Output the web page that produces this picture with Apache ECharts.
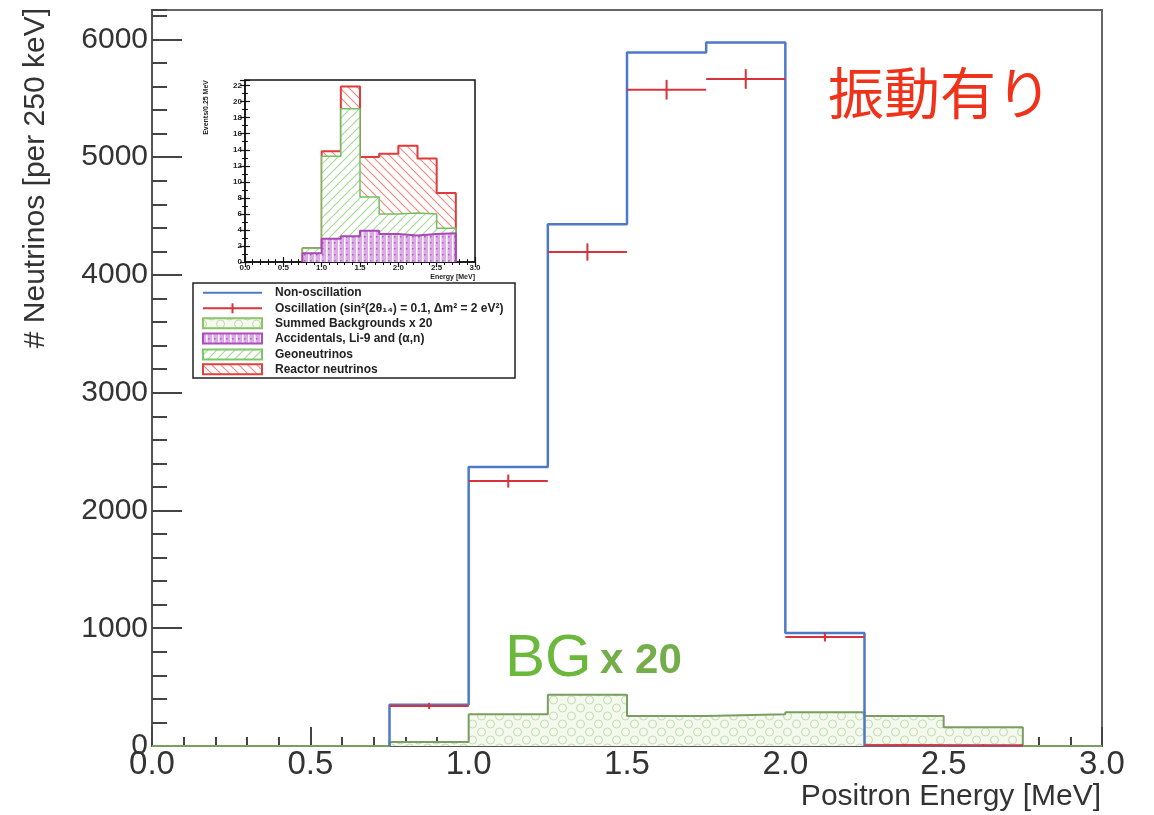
<!DOCTYPE html>
<html>
<head>
<meta charset="utf-8">
<script src="https://cdn.jsdelivr.net/npm/echarts@6/dist/echarts.min.js"></script>
<style>
  html, body { margin: 0; padding: 0; background: #fff; }
  #box { width: 1154px; height: 815px; }
</style>
</head>
<body>
<div id="box"></div>
<script>
// bin edges in MeV (250 keV bins); only these bins have content
var binEdges = [0.75, 1.0, 1.25, 1.5, 1.75, 2.0, 2.25, 2.5, 2.75];
var nonOsc   = [350, 2370, 4430, 5890, 5975, 960, 5, 3];
var osc      = [340, 2250, 4195, 5573, 5664, 926, 6, 4];
var oscErr   = [18, 47, 65, 75, 75, 30, 2, 2];
var bgSummed = [34, 270, 435, 255, 270, 287, 255, 160];   // summed backgrounds x 20

// inset: events per 0.25 MeV, stacked acc -> geo -> reactor
var accidentals = [1.1, 2.9, 3.2, 3.9, 3.5, 3.3, 3.5, 3.6];
var geoNu       = [0.6, 10.3, 15.9, 4.2, 2.5, 2.8, 2.5, 0.6];
var reactorNu   = [0, 0.6, 2.8, 5.0, 7.5, 8.4, 6.9, 4.4];

var legendNames = [
  'Non-oscillation',
  'Oscillation (sin\u00b2(2\u03b8\u2081\u2084) = 0.1, \u0394m\u00b2 = 2 eV\u00b2)',
  'Summed Backgrounds x 20',
  'Accidentals, Li-9 and (\u03b1,n)',
  'Geoneutrinos',
  'Reactor neutrinos'
];

var FONT = '"Liberation Sans", Arial, Helvetica, sans-serif';
var BLUE = '#4f78c6', RED = '#d8333a', BGLINE = '#7a9e62';

function tile(w, h, draw) {
  var c = document.createElement('canvas');
  c.width = w; c.height = h;
  draw(c.getContext('2d'), w, h);
  return { image: c, repeat: 'repeat' };
}
function hatch(size, bg, color, dir) {
  return tile(size, size, function (ctx, w) {
    ctx.fillStyle = bg; ctx.fillRect(0, 0, w, w);
    ctx.strokeStyle = color; ctx.lineWidth = 1.2;
    for (var k = -w; k <= w; k += w) {
      ctx.beginPath();
      if (dir > 0) { ctx.moveTo(k + w, 0); ctx.lineTo(k, w); }
      else { ctx.moveTo(k, 0); ctx.lineTo(k + w, w); }
      ctx.stroke();
    }
  });
}
var redHatch = hatch(9, '#fff', '#f08a80', -1);
var greenHatch = hatch(9, '#fff', '#a8d898', 1);
var purpleFill = tile(6, 6, function (ctx, w, h) {
  ctx.fillStyle = '#dcaae4'; ctx.fillRect(0, 0, w, h);
  ctx.fillStyle = '#fff'; ctx.fillRect(2, 0, 1.5, h);
  ctx.fillStyle = '#b458c4'; ctx.fillRect(4, 2, 1.5, 1.5);
});
var bgFill = tile(18, 16, function (ctx, w, h) {
  ctx.fillStyle = '#f3f9ec'; ctx.fillRect(0, 0, w, h);
  ctx.strokeStyle = '#c4d8b4'; ctx.lineWidth = 1;
  [[4.5, 4], [13.5, 12], [13.5, -4], [-4.5, 12], [22.5, 12], [4.5, 20]].forEach(function (p) {
    ctx.beginPath(); ctx.arc(p[0], p[1], 4, 0, Math.PI * 2); ctx.stroke();
  });
});

// histogram outline as step points, closed down to zero at both ends
function stepPoints(edges, vals, x0, x1) {
  var pts = [];
  if (x0 !== undefined) pts.push([x0, 0]);
  pts.push([edges[0], 0]);
  for (var i = 0; i < vals.length; i++) pts.push([edges[i], vals[i]]);
  pts.push([edges[edges.length - 1], 0]);
  if (x1 !== undefined) pts.push([x1, 0]);
  return pts;
}

var geoTop = accidentals.map(function (v, i) { return v + geoNu[i]; });
var totTop = geoTop.map(function (v, i) { return v + reactorNu[i]; });

var chart = echarts.init(document.getElementById('box'));

var tickStyle = { color: '#444', width: 2 };
var insetLabel = { fontSize: 8, fontWeight: 'bold', color: '#222', fontFamily: FONT };
var plain = function (v) { return String(v); };
var oneDec = function (v) { return v.toFixed(1); };

var rowsY = [292.7, 308.3, 323.3, 338.5, 354.5, 369.3];
var legendGraphics = [{
  type: 'rect', shape: { x: 193, y: 283, width: 322, height: 95 },
  style: { fill: '#fff', stroke: '#222', lineWidth: 1.5 }, z: 100
}];
var swatches = [
  { line: BLUE },
  { line: RED, bar: true },
  { fill: bgFill, stroke: '#8cc26a' },
  { fill: purpleFill, stroke: '#b04cc0' },
  { fill: greenHatch, stroke: '#7cc868' },
  { fill: redHatch, stroke: '#e04040' }
];
swatches.forEach(function (s, i) {
  var y = rowsY[i];
  if (s.line) {
    legendGraphics.push({ type: 'line', shape: { x1: 203, y1: y, x2: 262, y2: y },
      style: { stroke: s.line, lineWidth: 2 }, z: 101 });
    if (s.bar) legendGraphics.push({ type: 'line', shape: { x1: 232.5, y1: y - 5, x2: 232.5, y2: y + 5 },
      style: { stroke: s.line, lineWidth: 2 }, z: 101 });
  } else {
    legendGraphics.push({ type: 'rect', shape: { x: 203, y: y - 5, width: 59, height: 10 },
      style: { fill: s.fill, stroke: s.stroke, lineWidth: 2 }, z: 101 });
  }
  legendGraphics.push({ type: 'text', x: 275, y: y, z: 101,
    style: { text: legendNames[i], fontSize: 12, fontWeight: 'bold', fontFamily: FONT,
      fill: '#222', verticalAlign: 'middle' } });
});

var option = {
  animation: false,
  backgroundColor: '#fff',
  grid: [
    { left: 152, top: 10, width: 950, height: 736, show: true, borderColor: '#666', borderWidth: 2,
      backgroundColor: 'transparent', outerBoundsMode: 'none', containLabel: false },
    { left: 245, top: 80, width: 230, height: 182, show: true, borderColor: '#111', borderWidth: 1.5,
      backgroundColor: '#fff', outerBoundsMode: 'none', containLabel: false }
  ],
  xAxis: [
    { gridIndex: 0, type: 'value', position: 'bottom', min: 0, max: 3, interval: 0.5,
      axisLine: { show: true, lineStyle: { color: '#555', width: 2 } },
      axisTick: { inside: true, length: 19, lineStyle: tickStyle },
      minorTick: { show: true, splitNumber: 5, length: 9, lineStyle: tickStyle },
      splitLine: { show: false },
      axisLabel: { fontSize: 33, color: '#333', fontFamily: FONT, margin: 2, formatter: oneDec } },
    { gridIndex: 1, type: 'value', position: 'bottom', min: 0, max: 3, interval: 0.5,
      axisLine: { show: true, lineStyle: { color: '#111', width: 1.5 } },
      axisTick: { inside: true, length: 5, lineStyle: { color: '#111', width: 1.2 } },
      minorTick: { show: true, splitNumber: 5, length: 3, lineStyle: { color: '#111' } },
      splitLine: { show: false },
      axisLabel: Object.assign({ margin: 2, formatter: oneDec }, insetLabel) },
    { gridIndex: 1, type: 'value', position: 'top', min: 0, max: 3, interval: 0.5,
      axisLine: { show: false },
      axisTick: { inside: true, length: 5, lineStyle: { color: '#111', width: 1.2 } },
      minorTick: { show: true, splitNumber: 5, length: 3, lineStyle: { color: '#111' } },
      splitLine: { show: false }, axisLabel: { show: false } }
  ],
  yAxis: [
    { gridIndex: 0, type: 'value', position: 'left', min: 0, max: 6250, interval: 1000,
      axisLine: { show: true, lineStyle: { color: '#555', width: 2 } },
      axisTick: { inside: true, length: 30, lineStyle: tickStyle },
      splitLine: { show: false },
      axisLabel: { fontSize: 30, color: '#333', fontFamily: FONT, margin: 4, showMaxLabel: false,
        formatter: plain } },
    { gridIndex: 1, type: 'value', position: 'left', min: 0, max: 22.7, interval: 2,
      axisLine: { show: true, lineStyle: { color: '#111', width: 1.5 } },
      axisTick: { inside: true, length: 5, lineStyle: { color: '#111', width: 1.2 } },
      minorTick: { show: true, splitNumber: 2, length: 3, lineStyle: { color: '#111' } },
      splitLine: { show: false },
      axisLabel: Object.assign({ margin: 3, showMaxLabel: false, formatter: plain }, insetLabel) },
    { gridIndex: 1, type: 'value', position: 'right', min: 0, max: 22.7, interval: 2,
      axisLine: { show: false },
      axisTick: { inside: true, length: 5, lineStyle: { color: '#111', width: 1.2 } },
      minorTick: { show: true, splitNumber: 2, length: 3, lineStyle: { color: '#111' } },
      splitLine: { show: false }, axisLabel: { show: false } },
    { gridIndex: 0, type: 'value', position: 'left', offset: 0, min: 0, max: 6250, interval: 200,
      axisLine: { show: false },
      axisTick: { inside: true, length: 15, lineStyle: tickStyle },
      splitLine: { show: false }, axisLabel: { show: false } }
  ],
  series: [
    { name: 'Summed Backgrounds x 20', type: 'line', step: 'end', xAxisIndex: 0, yAxisIndex: 0,
      data: stepPoints(binEdges, bgSummed, 0, 3), symbol: 'none', z: 2,
      lineStyle: { color: BGLINE, width: 2 }, areaStyle: { color: bgFill, opacity: 1 } },
    { name: 'Non-oscillation', type: 'line', step: 'end', xAxisIndex: 0, yAxisIndex: 0,
      data: stepPoints(binEdges, nonOsc), symbol: 'none', z: 3,
      lineStyle: { color: BLUE, width: 2.5 } },
    { name: 'Oscillation', type: 'custom', xAxisIndex: 0, yAxisIndex: 0, z: 4,
      data: osc.map(function (v, i) { return [binEdges[i], binEdges[i + 1], v, oscErr[i]]; }),
      encode: { x: [0, 1], y: 2 },
      renderItem: function (params, api) {
        var xm = (api.value(0) + api.value(1)) / 2, v = api.value(2), e = api.value(3);
        var a = api.coord([api.value(0), v]), b = api.coord([api.value(1), v]);
        var c = api.coord([xm, v + e]), d = api.coord([xm, v - e]);
        var st = { stroke: RED, lineWidth: 2 };
        return { type: 'group', children: [
          { type: 'line', shape: { x1: a[0], y1: a[1], x2: b[0], y2: b[1] }, style: st },
          { type: 'line', shape: { x1: c[0], y1: c[1] - 1, x2: d[0], y2: d[1] + 1 }, style: st }
        ] };
      } },
    { name: 'Reactor neutrinos', type: 'line', step: 'end', xAxisIndex: 1, yAxisIndex: 1,
      data: stepPoints(binEdges, totTop), symbol: 'none', z: 5,
      lineStyle: { color: '#e03a3a', width: 2 }, areaStyle: { color: redHatch, opacity: 1 } },
    { name: 'Geoneutrinos', type: 'line', step: 'end', xAxisIndex: 1, yAxisIndex: 1,
      data: stepPoints(binEdges, geoTop), symbol: 'none', z: 6,
      lineStyle: { color: '#72c060', width: 1.5 }, areaStyle: { color: greenHatch, opacity: 1 } },
    { name: 'Accidentals', type: 'line', step: 'end', xAxisIndex: 1, yAxisIndex: 1,
      data: stepPoints(binEdges, accidentals), symbol: 'none', z: 7,
      lineStyle: { color: '#a848b8', width: 2 }, areaStyle: { color: purpleFill, opacity: 1 } }
  ],
  graphic: legendGraphics.concat([
    { type: 'text', x: 36, y: 8, rotation: Math.PI / 2,
      style: { text: '# Neutrinos [per 250 keV]', fontSize: 30, fontFamily: FONT, fill: '#333',
        align: 'right', verticalAlign: 'middle' } },
    { type: 'text', x: 1101, y: 797,
      style: { text: 'Positron Energy [MeV]', fontSize: 30, fontFamily: FONT, fill: '#333',
        align: 'right', verticalAlign: 'middle' } },
    { type: 'text', x: 206, y: 80, rotation: Math.PI / 2,
      style: { text: 'Events/0.25 MeV', align: 'right', verticalAlign: 'middle',
        fontSize: 7, fontWeight: 'bold', fontFamily: FONT, fill: '#222' } },
    { type: 'text', x: 475, y: 277,
      style: { text: 'Energy [MeV]', align: 'right', verticalAlign: 'middle',
        fontSize: 7, fontWeight: 'bold', fontFamily: FONT, fill: '#222' } },
    { type: 'text', x: 828, y: 93,
      style: { text: '振動有り', fontSize: 56, fontFamily: '"Noto Sans CJK JP", sans-serif',
        fill: '#f0321a', verticalAlign: 'middle' } },
    { type: 'text', x: 505, y: 659,
      style: { text: 'BG', fontSize: 60, fontFamily: FONT, fill: '#6bb83a', verticalAlign: 'middle' } },
    { type: 'text', x: 600, y: 661,
      style: { text: 'x 20', fontSize: 42, fontWeight: 'bold', fontFamily: FONT, fill: '#74ae4a',
        verticalAlign: 'middle' } }
  ])
};

chart.setOption(option);
</script>
</body>
</html>
